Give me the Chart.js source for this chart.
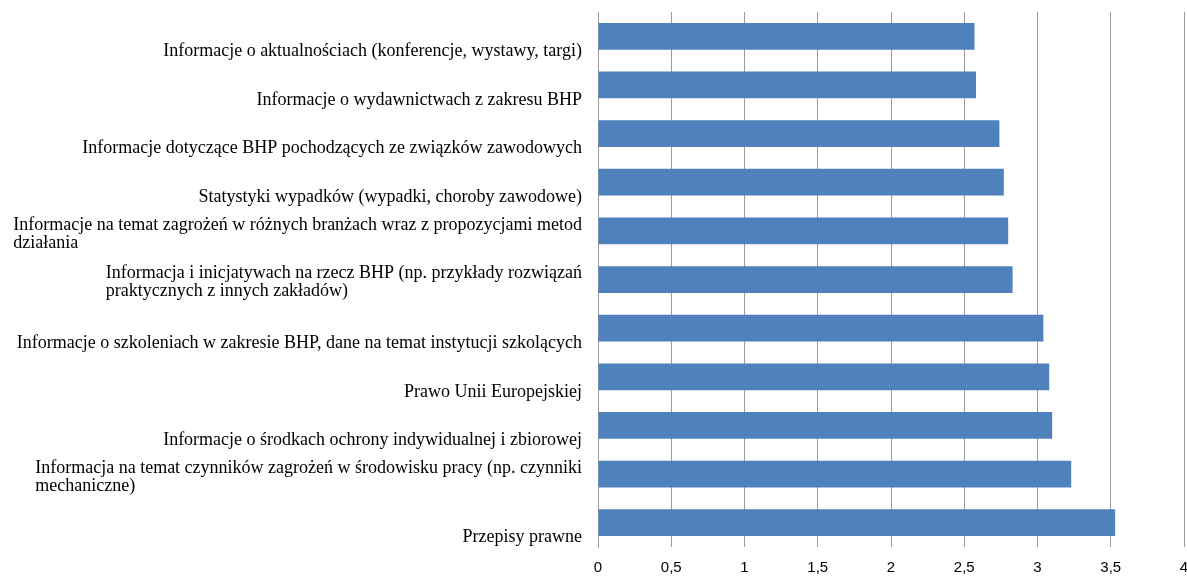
<!DOCTYPE html>
<html lang="pl">
<head>
<meta charset="utf-8">
<title>Źródła informacji BHP</title>
<script src="https://cdn.jsdelivr.net/npm/chart.js@4.4.1/dist/chart.umd.min.js"></script>
<style>
    html, body { margin: 0; padding: 0; background: #fff; overflow: hidden; }
    canvas { display: block; }
</style>
</head>
<body>
<canvas id="chart" width="1187" height="577"></canvas>
<script>
// kategorie (od góry), długie nazwy łamane jak w raporcie
const labels = [
    "Informacje o aktualnościach (konferencje, wystawy, targi)",
    "Informacje o wydawnictwach z zakresu BHP",
    "Informacje dotyczące BHP pochodzących ze związków zawodowych",
    "Statystyki wypadków (wypadki, choroby zawodowe)",
    ["Informacje na temat zagrożeń w różnych branżach wraz z propozycjami metod", "działania"],
    ["Informacja i inicjatywach na rzecz BHP (np. przykłady rozwiązań", "praktycznych z innych zakładów)"],
    "Informacje o szkoleniach w zakresie BHP, dane na temat instytucji szkolących",
    "Prawo Unii Europejskiej",
    "Informacje o środkach ochrony indywidualnej i zbiorowej",
    ["Informacja na temat czynników zagrożeń w środowisku pracy (np. czynniki", "mechaniczne)"],
    "Przepisy prawne",
];

// średnie oceny
const values = [2.57, 2.58, 2.74, 2.77, 2.80, 2.83, 3.04, 3.08, 3.10, 3.23, 3.53];

const axisMin = 0;
const axisMax = 4;
const axisStep = 0.5;

const gridColor = "#9a9a9a";

// etykiety kategorii: blok wyrównany do prawej, wiersze do lewej
const categoryLabels = {
    id: "categoryLabels",
    afterDraw(chart) {
        const ctx = chart.ctx;
        const yScale = chart.scales.y;
        const right = chart.chartArea.left - 16;
        ctx.save();
        ctx.font = '18px "Liberation Serif", "Times New Roman", serif';
        ctx.fillStyle = "#000";
        ctx.textAlign = "left";
        ctx.textBaseline = "middle";
        labels.forEach((label, i) => {
            const lines = [].concat(label);
            const w = Math.max(...lines.map((l) => ctx.measureText(l).width));
            const x = right - w;
            const yc = yScale.getPixelForValue(i);
            const first = yc + 15 - (lines.length - 1) * 21;
            lines.forEach((line, k) => {
                ctx.fillText(line, x, first + k * 18);
            });
        });
        ctx.restore();
    },
};

new Chart(document.getElementById("chart"), {
    type: "bar",
    data: {
        labels: labels,
        datasets: [
            {
                data: values,
                backgroundColor: "#4f81bd",
                borderWidth: 0,
                barPercentage: 0.55,
                categoryPercentage: 1,
            },
        ],
    },
    options: {
        indexAxis: "y",
        responsive: false,
        animation: false,
        layout: {
            padding: { top: 12, right: 3, bottom: 0, left: 0 },
        },
        plugins: {
            legend: { display: false },
            tooltip: { enabled: false },
        },
        scales: {
            x: {
                min: axisMin,
                max: axisMax,
                ticks: {
                    stepSize: axisStep,
                    padding: 12,
                    maxRotation: 0,
                    color: "#000",
                    font: { family: '"Liberation Sans", Arial, sans-serif', size: 15 },
                    callback: (value) => String(value).replace(".", ","),
                },
                grid: {
                    color: gridColor,
                    lineWidth: 1,
                    drawTicks: false,
                },
                border: { display: false },
                afterFit: (scale) => {
                    scale.height = 30;
                    scale.paddingLeft = 0;
                    scale.paddingRight = 0;
                    scale.paddingTop = 0;
                    scale.paddingBottom = 0;
                },
            },
            y: {
                ticks: { display: false },
                grid: { display: false },
                border: { display: true, color: gridColor, width: 1 },
                afterFit: (scale) => {
                    scale.width = 598;
                    scale.paddingTop = 0;
                    scale.paddingBottom = 0;
                },
            },
        },
    },
    plugins: [categoryLabels],
});
</script>
</body>
</html>
